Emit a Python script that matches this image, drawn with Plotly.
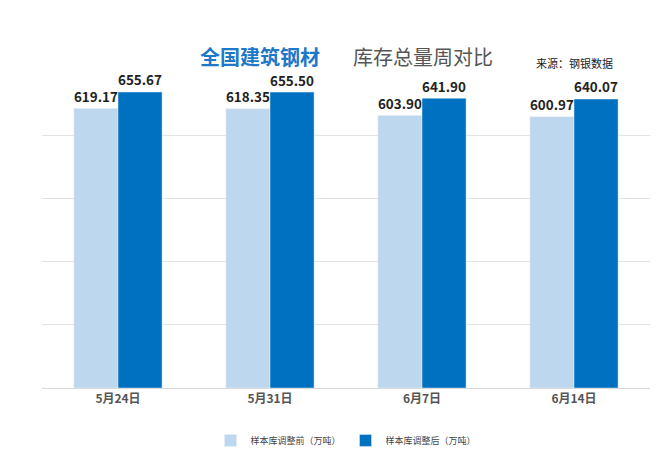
import plotly.graph_objects as go

categories = ["5月24日", "5月31日", "6月7日", "6月14日"]
before = [619.17, 618.35, 603.90, 600.97]
after = [655.67, 655.50, 641.90, 640.07]
names = ["样本库调整前（万吨）", "样本库调整后（万吨）"]

F = "Noto Sans CJK SC"
L, R, T, B = 34, 30, 64, 69
fig = go.Figure()
fig.add_bar(x=categories, y=before, name=names[0], marker_color="#bdd7ee",
            text=[f"<b>{v:.2f}</b>" for v in before], textposition="outside",
            textfont=dict(size=15, color="#222", family=F), cliponaxis=False)
fig.add_bar(x=categories, y=after, name=names[1], marker_color="#0070c0",
            text=[f"<b>{v:.2f}</b>" for v in after], textposition="outside",
            textfont=dict(size=15, color="#222", family=F), cliponaxis=False)
fig.update_layout(
    width=672, height=459, barmode="group", bargap=0.42, bargroupgap=0,
    plot_bgcolor="white", paper_bgcolor="white",
    margin=dict(l=L, r=R, t=T, b=B),
    font=dict(family=F),
    xaxis=dict(showline=True, linecolor="#d9d9d9", ticks="",
               tickfont=dict(size=12, color="#555"),
               tickvals=categories, ticktext=[f"<b>{c}</b>" for c in categories]),
    yaxis=dict(range=[0, 700], dtick=140, showticklabels=False, gridcolor="#e3e3e3",
               zeroline=False),
    legend=dict(orientation="h", x=0.5, xanchor="center", y=-0.12, yanchor="top",
                font=dict(size=9, color="#444"), itemwidth=30),
)
anns = [
    ("<b>全国建筑钢材</b>", 190, 48, 20, "#1f77c8"),
    ("库存总量周对比", 343, 48, 20, "#555"),
    ("来源：钢银数据", 526, 55, 11, "#222"),
]
for txt, px, py, sz, col in anns:
    fig.add_annotation(text=txt, xref="paper", yref="paper",
                       x=(px - L) / (672 - L - R), y=1 + (T - py) / (459 - T - B),
                       xanchor="left", yanchor="middle", showarrow=False,
                       font=dict(size=sz, color=col))
fig.write_html("out.html")
